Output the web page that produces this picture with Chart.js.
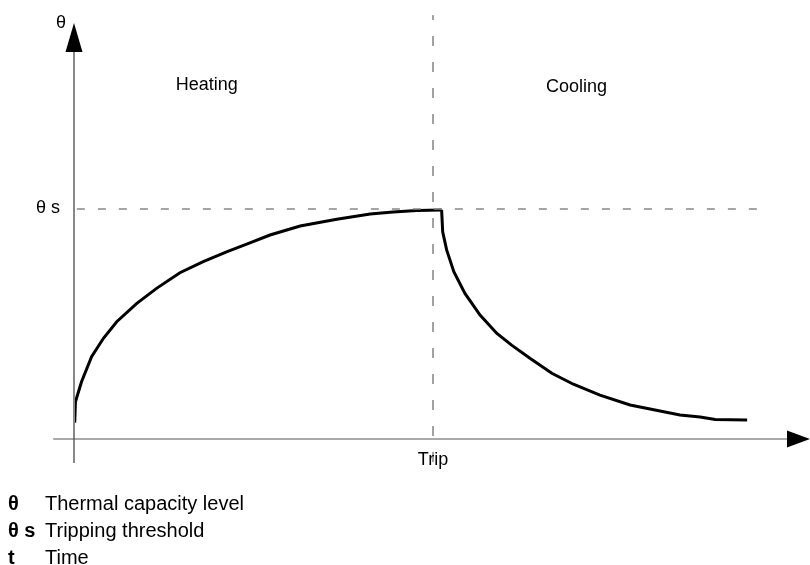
<!DOCTYPE html>
<html>
<head>
<meta charset="utf-8">
<script src="https://cdn.jsdelivr.net/npm/chart.js@4.4.1/dist/chart.umd.min.js"></script>
<style>
    body { margin: 0; background: #fff; overflow: hidden; }
    #wrap { position: relative; width: 810px; height: 565px; }
    #legend {
        position: absolute; left: 8px; top: 490px;
        font-family: "Liberation Sans", Arial, sans-serif;
        font-size: 20px; line-height: 27px; color: #000;
    }
    #legend b { display: inline-block; width: 37px; }
</style>
</head>
<body>
<div id="wrap">
    <canvas id="chart" width="810" height="565"></canvas>
    <div id="legend">
        <div><b>θ</b>Thermal capacity level</div>
        <div><b>θ s</b>Tripping threshold</div>
        <div><b>t</b>Time</div>
    </div>
</div>
<script>
// нагрев: время (trip = 1) и уровень θ (θs = 1)
const heatT     = [0.002, 0.004, 0.021, 0.049, 0.082, 0.119, 0.175, 0.230, 0.295, 0.360, 0.425, 0.490, 0.546, 0.630, 0.732, 0.825, 0.889, 0.955, 1.024];
const heatTheta = [0.071, 0.162, 0.249, 0.358, 0.438, 0.510, 0.590, 0.655, 0.723, 0.771, 0.814, 0.853, 0.887, 0.926, 0.955, 0.978, 0.987, 0.993, 0.996];

// охлаждение после срабатывания
const coolT     = [1.024, 1.027, 1.038, 1.058, 1.089, 1.131, 1.178, 1.219, 1.270, 1.331, 1.391, 1.465, 1.549, 1.688, 1.744, 1.786, 1.875];
const coolTheta = [0.996, 0.901, 0.822, 0.727, 0.633, 0.539, 0.459, 0.408, 0.351, 0.286, 0.238, 0.191, 0.148, 0.104, 0.096, 0.085, 0.083];

// порог и момент срабатывания
const thetaS = 1;
const tripT = 1;
const thresholdSpan = [0.008, 1.911];
const tripSpan = [-0.10, 1.843];

// оси
const axisT = [-0.058, 1.986, 2.050];     // начало, основание стрелки, острие
const axisTheta = [-0.104, 1.683, 1.809];

const labels = ["Heating", "Cooling", "Trip", "θ", "θ s"];

const toPts = (xs, ys) => xs.map((x, i) => ({ x: x, y: ys[i] }));

const ctx = document.getElementById('chart').getContext('2d');

//стрелки осей и подписи
const decor = {
    id: 'decor',
    afterDatasetsDraw(chart) {
        const c = chart.ctx;
        const sx = chart.scales.x, sy = chart.scales.y;
        const x0 = sx.getPixelForValue(0), y0 = sy.getPixelForValue(0);

        c.save();
        c.fillStyle = '#000';
        // стрелка по Y
        let tip = sy.getPixelForValue(axisTheta[2]), base = sy.getPixelForValue(axisTheta[1]);
        c.beginPath();
        c.moveTo(x0, tip); c.lineTo(x0 - 8.5, base); c.lineTo(x0 + 8.5, base);
        c.closePath(); c.fill();
        // стрелка по X
        tip = sx.getPixelForValue(axisT[2]); base = sx.getPixelForValue(axisT[1]);
        c.beginPath();
        c.moveTo(tip, y0); c.lineTo(base, y0 - 8.5); c.lineTo(base, y0 + 8.5);
        c.closePath(); c.fill();

        c.font = '18px "Liberation Sans", Arial, sans-serif';
        c.textBaseline = 'alphabetic';
        c.textAlign = 'center';
        c.fillText(labels[0], sx.getPixelForValue(0.37), 90);
        c.fillText(labels[1], sx.getPixelForValue(1.40), 92);
        c.fillText(labels[2], sx.getPixelForValue(tripT), y0 + 26);
        c.textAlign = 'right';
        c.fillText(labels[3], x0 - 8, sy.getPixelForValue(axisTheta[2]) + 5);
        c.fillText(labels[4], x0 - 14, sy.getPixelForValue(thetaS) + 4);
        c.restore();
    }
};

const line = (data, color, width, dash) => ({
    data: data,
    borderColor: color,
    borderWidth: width,
    borderDash: dash || [],
    pointRadius: 0,
    tension: 0,
    fill: false
});

new Chart(ctx, {
    type: 'line',
    data: {
        datasets: [
            line(toPts(axisT.slice(0, 2), [0, 0]), '#555', 1),
            line(toPts([0, 0], axisTheta.slice(0, 2)), '#888', 2),
            line(toPts(thresholdSpan, [thetaS, thetaS]), '#888', 1.5, [8, 13]),
            line(toPts([tripT, tripT], tripSpan), '#444', 1, [10, 16]),
            line(toPts(heatT, heatTheta), '#000', 3),
            line(toPts(coolT, coolTheta), '#000', 3)
        ]
    },
    options: {
        responsive: false,
        animation: false,
        layout: { padding: 0 },
        plugins: { legend: { display: false }, tooltip: { enabled: false } },
        scales: {
            x: { type: 'linear', display: false, min: -74 / 359, max: 736 / 359 },
            y: { type: 'linear', display: false, min: -126 / 230, max: 439 / 230 }
        }
    },
    plugins: [decor]
});
</script>
</body>
</html>
